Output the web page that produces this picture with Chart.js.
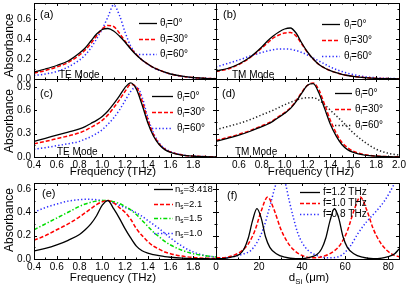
<!DOCTYPE html>
<html>
<head>
<meta charset="utf-8">
<script src="https://cdn.jsdelivr.net/npm/chart.js@4.4.1/dist/chart.umd.min.js"></script>
<style>
  html, body { margin: 0; padding: 0; background: #fff; }
  #wrap { position: relative; width: 407px; height: 287px; overflow: hidden; }
  #wrap canvas { position: absolute; left: 0; top: 0; }
</style>
</head>
<body>
<div id="wrap">
  <canvas id="pa" width="407" height="287"></canvas>
  <canvas id="pb" width="407" height="287"></canvas>
  <canvas id="pc" width="407" height="287"></canvas>
  <canvas id="pd" width="407" height="287"></canvas>
  <canvas id="pe" width="407" height="287"></canvas>
  <canvas id="pf" width="407" height="287"></canvas>
</div>
<script>
// frequency grid (THz) used by panels a-e
const freqTHz = [0.4, 0.5, 0.6, 0.7, 0.8, 0.85, 0.9, 0.95, 1.0, 1.05, 1.1, 1.15, 1.2,
  1.25, 1.3, 1.35, 1.4, 1.45, 1.5, 1.55, 1.6, 1.7, 1.8, 1.9, 2.0];

// (a) TE mode, incidence 0/30/60 deg
const teA0 = [.07, .10, .135, .18, .26, .31, .38, .45, .495, .505, .48, .43, .37, .30, .24, .19, .15, .115, .09, .068, .05, .028, .014, .007, .003];
const teA30 = [.06, .085, .12, .165, .24, .29, .355, .43, .50, .535, .525, .46, .38, .31, .245, .19, .15, .115, .09, .068, .05, .027, .014, .007, .003];
const teA60 = [.035, .05, .075, .12, .19, .24, .31, .40, .50, .62, .74, .64, .47, .33, .245, .19, .147, .112, .087, .066, .049, .026, .013, .006, .003];

// (b) TM mode
const tmB0 = [.08, .105, .15, .22, .32, .38, .43, .47, .50, .51, .46, .36, .27, .20, .145, .11, .083, .063, .047, .035, .026, .014, .007, .004, .002];
const tmB30 = [.075, .10, .145, .215, .31, .36, .41, .44, .46, .465, .43, .35, .265, .20, .145, .11, .083, .063, .047, .035, .026, .014, .007, .004, .002];
const tmB60 = [.12, .155, .19, .23, .265, .28, .292, .30, .30, .297, .285, .265, .24, .21, .18, .15, .12, .095, .075, .058, .044, .024, .012, .006, .003];

// (c) TE mode
const teC0 = [.20, .24, .28, .32, .36, .39, .43, .47, .52, .59, .68, .78, .89, .95, .87, .67, .44, .27, .16, .095, .06, .025, .01, .004, .002];
const teC30 = [.17, .20, .235, .27, .31, .34, .38, .42, .47, .54, .63, .73, .84, .93, .90, .72, .48, .29, .17, .10, .065, .027, .011, .005, .002];
const teC60 = [.10, .12, .145, .17, .20, .23, .26, .30, .35, .42, .50, .60, .72, .84, .90, .77, .51, .31, .18, .11, .07, .028, .011, .005, .002];

// (d) TM mode
const tmD0 = [.20, .24, .28, .33, .39, .42, .46, .51, .56, .62, .71, .82, .92, .94, .82, .62, .42, .27, .16, .095, .06, .025, .01, .004, .002];
const tmD30 = [.21, .25, .29, .34, .40, .43, .47, .52, .57, .63, .72, .83, .92, .95, .86, .67, .47, .31, .19, .12, .075, .03, .012, .005, .002];
const tmD60 = [.35, .39, .43, .48, .54, .57, .60, .635, .67, .70, .73, .75, .76, .76, .73, .67, .60, .53, .46, .385, .31, .19, .10, .05, .025];

// (e) substrate index
const ns3418 = [.07, .09, .12, .16, .21, .25, .30, .37, .46, .50, .43, .35, .26, .18, .11, .07, .05, .038, .028, .02, .015, .008, .004, .002, .001];
const ns21 = [.16, .20, .25, .30, .36, .395, .43, .465, .49, .50, .48, .44, .40, .34, .26, .20, .15, .11, .085, .06, .045, .025, .013, .007, .004];
const ns15 = [.25, .30, .35, .40, .45, .47, .485, .495, .50, .50, .49, .475, .45, .42, .38, .33, .28, .23, .19, .15, .12, .075, .045, .028, .017];
const ns10 = [.40, .44, .47, .495, .508, .51, .51, .507, .50, .495, .48, .46, .44, .42, .395, .365, .33, .295, .26, .22, .18, .11, .06, .03, .015];

// (f) absorbance vs silicon thickness (um)
const dSi12 = [0, 4, 8, 11, 13, 15, 17, 19, 21, 23, 25, 28, 32, 37, 42, 47, 49, 51, 53, 55, 57, 59, 61, 64, 68, 73, 77, 80, 83, 85];
const abs12 = [.003, .005, .02, .04, .085, .18, .33, .43, .35, .19, .10, .045, .015, .003, .008, .04, .085, .18, .33, .43, .35, .19, .10, .045, .015, .003, .008, .02, .045, .085];
const dSi10 = [0, 3, 8, 12, 15, 18, 21, 24, 27, 30, 33, 36, 40, 45, 51, 55, 58, 61, 64, 67, 70, 73, 76, 79, 83, 85];
const abs10 = [.012, .01, .03, .07, .13, .24, .41, .53, .42, .26, .15, .08, .03, .01, .03, .07, .13, .24, .41, .53, .42, .26, .15, .08, .03, .02];
const dSi08 = [0, 5, 9, 13, 16, 19, 22, 25, 28, 30, 32, 34, 36, 38, 40, 43, 47, 52, 57, 62, 66, 70, 74, 78, 81, 83, 85];
const abs08 = [.005, .01, .025, .045, .07, .14, .26, .45, .65, .72, .66, .50, .35, .22, .14, .07, .03, .01, .02, .10, .22, .32, .40, .49, .58, .65, .72];

const thetaLabels = [['θ', 'i', '=0°'], ['θ', 'i', '=30°'], ['θ', 'i', '=60°']];
const nsLabels = [['n', 's', '=3.418'], ['n', 's', '=2.1'], ['n', 's', '=1.5'], ['n', 's', '=1.0']];
const fLabels = [['f=1.2 THz'], ['f=1.0 THz'], ['f=0.8 THz']];

const FONT = "'Liberation Sans', Arial, sans-serif";
Chart.defaults.font.family = FONT;
Chart.defaults.font.size = 10;
Chart.defaults.color = '#000';

const pts = (xs, ys) => xs.map((x, i) => ({x: x, y: ys[i]}));

const solid = (data) => ({data, borderColor: '#000', borderWidth: 1.3});
const dashed = (data) => ({data, borderColor: '#ff0000', borderWidth: 1.5, borderDash: [4, 2]});
const dotted = (data, c) => ({data, borderColor: c || '#2a2aff', borderWidth: 1.5, borderDash: [1.3, 2.2]});
const dashDot = (data) => ({data, borderColor: '#00dd00', borderWidth: 1.5, borderDash: [4, 2, 1.3, 2]});

function textWidth(ctx, parts, size) {
  ctx.font = size + 'px ' + FONT;
  let w = ctx.measureText(parts[0]).width;
  if (parts[1]) {
    ctx.font = (size * 0.68) + 'px ' + FONT;
    w += ctx.measureText(parts[1]).width;
  }
  if (parts[2]) {
    ctx.font = size + 'px ' + FONT;
    w += ctx.measureText(parts[2]).width;
  }
  return w;
}

// draws main text, a subscript and the rest, starting at x (left aligned)
function subText(ctx, x, y, parts, size) {
  ctx.textAlign = 'left';
  ctx.textBaseline = 'middle';
  ctx.font = size + 'px ' + FONT;
  ctx.fillText(parts[0], x, y);
  x += ctx.measureText(parts[0]).width;
  if (parts[1]) {
    ctx.font = (size * 0.68) + 'px ' + FONT;
    ctx.fillText(parts[1], x, y + size * 0.32);
    x += ctx.measureText(parts[1]).width;
  }
  if (parts[2]) {
    ctx.font = size + 'px ' + FONT;
    ctx.fillText(parts[2], x, y);
  }
}

const framePlugin = {
  id: 'frame',
  afterDraw(chart, args, opts) {
    const ctx = chart.ctx;
    const {left, top, right, bottom} = chart.chartArea;
    ctx.save();
    ctx.strokeStyle = '#000';
    ctx.lineWidth = 1;
    ctx.setLineDash([]);
    ctx.strokeRect(left + 0.5, top + 0.5, right - left, bottom - top);

    // inward ticks on every side, minor ones half way between majors
    ctx.beginPath();
    const mark = (scale, horiz) => {
      const vals = scale.ticks.map(t => t.value);
      const step = vals[1] - vals[0];
      const all = [[vals[0] - step / 2, 1.5]];
      vals.forEach(v => { all.push([v, 3]); all.push([v + step / 2, 1.5]); });
      all.forEach(([v, len]) => {
        if (v < scale.min - 1e-9 || v > scale.max + 1e-9) return;
        const p = Math.round(scale.getPixelForValue(v)) + 0.5;
        if (horiz) {
          ctx.moveTo(p, bottom); ctx.lineTo(p, bottom - len);
          ctx.moveTo(p, top); ctx.lineTo(p, top + len);
        } else {
          ctx.moveTo(left, p); ctx.lineTo(left + len, p);
          ctx.moveTo(right, p); ctx.lineTo(right - len, p);
        }
      });
    };
    mark(chart.scales.x, true);
    mark(chart.scales.y, false);
    ctx.stroke();

    ctx.fillStyle = '#000';
    if (opts.tag) subText(ctx, opts.tag[1], opts.tag[2], [opts.tag[0]], 11);
    if (opts.mode) subText(ctx, opts.mode[1], opts.mode[2], [opts.mode[0]], 10);

    const lg = opts.legend;
    if (lg) {
      chart.data.datasets.forEach((ds, i) => {
        const y = lg.ys[i];
        ctx.strokeStyle = ds.borderColor;
        ctx.lineWidth = ds.borderWidth;
        ctx.setLineDash(ds.borderDash || []);
        ctx.beginPath();
        ctx.moveTo(lg.x0, y + 0.5);
        ctx.lineTo(lg.x1, y + 0.5);
        ctx.stroke();
        ctx.fillStyle = '#000';
        subText(ctx, lg.tx, y, lg.labels[i], lg.size || 10);
      });
      ctx.setLineDash([]);
    }

    (opts.titles || []).forEach(t => {
      const size = t.size || 11.5;
      const w = textWidth(ctx, t.parts, size);
      ctx.save();
      ctx.translate(t.x, t.y);
      if (t.rot) ctx.rotate(-Math.PI / 2);
      ctx.fillStyle = '#000';
      subText(ctx, -w / 2, 0, t.parts, size);
      ctx.restore();
    });
    ctx.restore();
  }
};

// fixed axis box sizes so the plot area lands exactly where the padding puts it
const pinX = (h) => (s) => { s.height = h; s.paddingLeft = s.paddingRight = s.paddingTop = s.paddingBottom = 0; };
const pinY = (w) => (s) => { s.width = w; s.paddingLeft = s.paddingRight = s.paddingTop = s.paddingBottom = 0; };

function panel(id, box, datasets, xAxis, yAxis, frame) {
  const yw = yAxis.show === false ? 0 : 34;
  const xh = xAxis.show === false ? 0 : 14;
  return new Chart(document.getElementById(id), {
    type: 'line',
    data: {datasets},
    plugins: [framePlugin],
    options: {
      responsive: false,
      animation: false,
      events: [],
      layout: {padding: {left: box[0] - yw, top: box[1], right: 407 - box[2], bottom: 287 - box[3] - xh}},
      elements: {
        point: {radius: 0},
        line: {fill: false, cubicInterpolationMode: 'monotone'}
      },
      plugins: {legend: {display: false}, tooltip: {enabled: false}, frame},
      scales: {
        x: {
          type: 'linear',
          min: xAxis.min,
          max: xAxis.max,
          grid: {display: false, drawTicks: false},
          border: {display: false},
          afterFit: pinX(xh),
          ticks: {
            display: xAxis.show !== false,
            stepSize: xAxis.step,
            includeBounds: false,
            autoSkip: false,
            maxRotation: 0,
            padding: 2,
            callback: xAxis.label
          }
        },
        y: {
          type: 'linear',
          min: 0,
          max: yAxis.max,
          grid: {display: false, drawTicks: false},
          border: {display: false},
          afterFit: pinY(yw),
          ticks: {
            display: yAxis.show !== false,
            stepSize: yAxis.step,
            includeBounds: false,
            autoSkip: false,
            padding: 3,
            callback: (v) => v.toFixed(1)
          }
        }
      }
    }
  });
}

const freqAxis = (show, label) => ({min: 0.4, max: 2.0, step: 0.2, show, label});
const leftFreqLabel = (v) => (v > 1.9 ? '' : v.toFixed(1));
const rightFreqLabel = (v) => (v < 0.5 ? '' : v.toFixed(1));
const absTitle = (y) => ({parts: ['Absorbance'], x: 10, y, rot: true, size: 12});
const freqTitle = (x, y) => ({parts: ['Frequency (THz)'], x, y});

panel('pa', [34, 3, 216, 79],
  [solid(pts(freqTHz, teA0)), dashed(pts(freqTHz, teA30)), dotted(pts(freqTHz, teA60))],
  freqAxis(false), {max: 0.76, step: 0.2},
  {tag: ['(a)', 40, 15], mode: ['TE Mode', 59, 75.5],
   legend: {x0: 139, x1: 157, tx: 160, ys: [23, 39, 54], labels: thetaLabels},
   titles: [absTitle(45.5)]});

panel('pb', [216, 3, 399, 79],
  [solid(pts(freqTHz, tmB0)), dashed(pts(freqTHz, tmB30)), dotted(pts(freqTHz, tmB60))],
  freqAxis(false), {max: 0.76, step: 0.2, show: false},
  {tag: ['(b)', 223, 15], mode: ['TM Mode', 232, 75.5],
   legend: {x0: 322, x1: 340, tx: 344, ys: [24, 40, 56], labels: thetaLabels}});

panel('pc', [34, 79, 216, 157],
  [solid(pts(freqTHz, teC0)), dashed(pts(freqTHz, teC30)), dotted(pts(freqTHz, teC60))],
  freqAxis(true, leftFreqLabel), {max: 1.0, step: 0.3},
  {tag: ['(c)', 40, 94], mode: ['TE Mode', 57, 152],
   legend: {x0: 152, x1: 173, tx: 177, ys: [96, 112, 128], labels: thetaLabels},
   titles: [absTitle(121), freqTitle(113, 172)]});

panel('pd', [216, 79, 399, 157],
  [solid(pts(freqTHz, tmD0)), dashed(pts(freqTHz, tmD30)), dotted(pts(freqTHz, tmD60), '#222')],
  freqAxis(true, rightFreqLabel), {max: 1.0, step: 0.3, show: false},
  {tag: ['(d)', 222, 94], mode: ['TM Mode', 235, 152],
   legend: {x0: 335, x1: 352, tx: 355, ys: [93, 109, 125], labels: thetaLabels},
   titles: [freqTitle(311, 172)]});

panel('pe', [34, 183, 216, 259],
  [solid(pts(freqTHz, ns3418)), dashed(pts(freqTHz, ns21)), dashDot(pts(freqTHz, ns15)), dotted(pts(freqTHz, ns10))],
  freqAxis(true, leftFreqLabel), {max: 0.65, step: 0.2},
  {tag: ['(e)', 42, 194],
   legend: {x0: 154, x1: 173, tx: 175, ys: [189, 204, 218, 233], labels: nsLabels, size: 9.5},
   titles: [absTitle(220), freqTitle(113, 278)]});

panel('pf', [216, 183, 399, 259],
  [solid(pts(dSi12, abs12)), dashed(pts(dSi10, abs10)), dotted(pts(dSi08, abs08))],
  {min: 0, max: 85, step: 20, label: (v) => String(v)}, {max: 0.65, step: 0.2, show: false},
  {tag: ['(f)', 227, 196],
   legend: {x0: 300, x1: 320, tx: 323, ys: [192, 203, 214], labels: fLabels},
   titles: [{parts: ['d', 'Si', ' (μm)'], x: 309, y: 278}]});
</script>
</body>
</html>
